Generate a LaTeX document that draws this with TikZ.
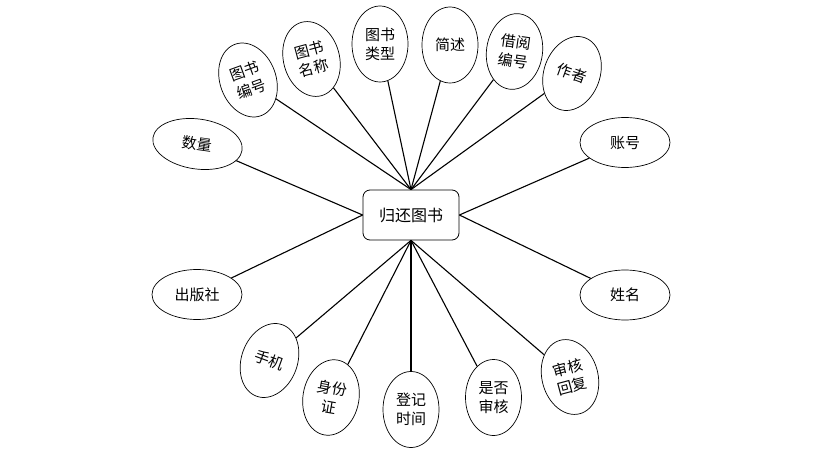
\documentclass[tikz,border=0pt]{standalone}
\usepackage{fontspec}
\setmainfont{Noto Sans CJK SC}
\usetikzlibrary{shapes.geometric}
\begin{document}
\begin{tikzpicture}[x=1pt,y=-1pt,
  attr/.style={ellipse,draw,line width=0.7pt,inner sep=0pt,font=\fontsize{15}{19}\selectfont,align=center},
  vatt/.style={attr,minimum width=56pt,minimum height=76pt},
  hatt/.style={attr,minimum width=90pt,minimum height=50pt},
  link/.style={line width=1.1pt}]
\useasboundingbox (0,0) rectangle (821,449);
\node[draw,rounded corners=7pt,minimum width=96pt,minimum height=50pt,line width=0.8pt,font=\fontsize{16}{19}\selectfont] (c) at (411,215) {归还图书};
% top group
\node[hatt,rotate=-8] (sl) at (197.5,144) {数量};
\node[vatt,rotate=20] (tsbh) at (248,80) {图书\\编号};
\node[vatt,rotate=15] (tsmc) at (311.5,59) {图书\\名称};
\node[vatt] (tslx) at (380,44) {图书\\类型};
\node[vatt] (js) at (450,45) {简述};
\node[vatt,rotate=-8] (jybh) at (514.5,51.5) {借阅\\编号};
\node[vatt,rotate=-20] (zz) at (572,73.5) {作者};
\node[hatt] (zh) at (625,142.5) {账号};
\node[hatt] (xm) at (625,295) {姓名};
\node[hatt] (cbs) at (197,294.5) {出版社};
% bottom group
\node[vatt,rotate=-20] (sj) at (269.5,360.5) {手机};
\node[vatt,rotate=-10] (sfz) at (331,397.5) {身份\\证};
\node[vatt] (djsj) at (411,409.5) {登记\\时间};
\node[vatt] (sfsh) at (493.5,397.5) {是否\\审核};
\node[vatt,rotate=15] (shhf) at (570,377) {审核\\回复};
% connectors
\foreach \n in {tsbh,tsmc,tslx,js,jybh,zz} \draw[link] (\n) -- (c.north);
\foreach \n in {sj,sfz,djsj,sfsh,shhf} \draw[link] (\n) -- (c.south);
\foreach \n in {sl,cbs} \draw[link] (\n) -- (c.west);
\foreach \n in {zh,xm} \draw[link] (\n) -- (c.east);
\end{tikzpicture}
\end{document}
